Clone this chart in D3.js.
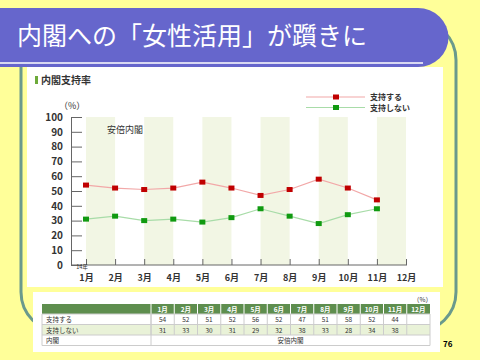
<!DOCTYPE html>
<html><head><meta charset="utf-8">
<script src="https://cdn.jsdelivr.net/npm/d3@7"></script>
<style>body{margin:0;background:#FFFF99;}svg{display:block;}</style>
</head><body>
<script>
const title = "内閣への「女性活用」が躓きに";
const chartTitle = "内閣支持率";
const months = ["1月","2月","3月","4月","5月","6月","7月","8月","9月","10月","11月","12月"];
const support = [54,52,51,52,56,52,47,51,58,52,44];
const nonSupport = [31,33,30,31,29,32,38,33,28,34,38];
const seriesNames = ["支持する","支持しない"];
const yTicks = [0,10,20,30,40,50,60,70,80,90,100];
const cabinet = "安倍内閣";
const yearLabel = "14年";
const pageNo = "76";

const F = "'Noto Sans CJK JP','Noto Sans',sans-serif";
const svg = d3.select("body").append("svg").attr("width",480).attr("height",360);
svg.append("rect").attr("width",480).attr("height",360).attr("fill","#FFFF99");

// frame
svg.append("rect").attr("x",21).attr("y",20).attr("width",435).attr("height",312).attr("rx",40)
  .attr("fill","none").attr("stroke","#6A9A8C").attr("stroke-width",3);

// banner
svg.append("path").attr("d","M0,8 H418 A30,29 0 0 1 418,67 H0 Z").attr("fill","#6666CC");
svg.append("line").attr("x1",0).attr("x2",423).attr("y1",63).attr("y2",63).attr("stroke","#fff").attr("stroke-width",1.5);
svg.append("text").attr("x",17).attr("y",45).attr("fill","#fff").attr("font-family",F)
  .attr("font-size",25).text(title);

// chart panel
svg.append("rect").attr("x",27).attr("y",67).attr("width",416).attr("height",220).attr("fill","#fff");
svg.append("rect").attr("x",35).attr("y",76).attr("width",3).attr("height",8).attr("fill","#6DAA3A");
svg.append("text").attr("x",41).attr("y",84).attr("font-family",F).attr("font-size",10).attr("font-weight","bold")
  .attr("fill","#333").text(chartTitle);

const x = d3.scalePoint().domain(months).range([86,406]);
const y = d3.scaleLinear().domain([0,100]).range([265,117]);
const step = x.step();

// bands
const g = svg.append("g");
g.selectAll("rect.band").data(months.filter((m,i)=>i%2===0)).join("rect")
  .attr("x",d=>x(d)).attr("width",step).attr("y",y(100)).attr("height",y(0)-y(100))
  .attr("fill","#F2F6E4");

svg.append("text").attr("x",107).attr("y",133).attr("font-family",F).attr("font-size",9).attr("fill","#333").text(cabinet);
svg.append("text").attr("x",59).attr("y",109).attr("font-family",F).attr("font-size",9).attr("fill","#333").text("（%）");

// y axis
const ya = svg.append("g").attr("transform","translate(71,0)")
  .call(d3.axisLeft(y).tickValues(yTicks).tickSize(-11).tickSizeOuter(0).tickPadding(8));
ya.selectAll("text").attr("font-family",F).attr("font-size",10).attr("font-weight","bold").attr("fill","#333");
ya.selectAll("line,path").attr("stroke","#666");

// x axis
svg.append("line").attr("x1",71).attr("x2",x("12月")+1).attr("y1",y(0)).attr("y2",y(0)).attr("stroke","#666");
const xa = svg.append("g").attr("transform",`translate(0,${y(0)})`)
  .call(d3.axisBottom(x).tickSize(-6).tickPadding(10));
xa.select(".domain").remove();
xa.selectAll("line").attr("stroke","#666");
xa.selectAll("text").attr("font-family",F).attr("font-size",9).attr("font-weight","bold").attr("fill","#333");
svg.append("text").attr("x",x("1月")-4).attr("y",268.5).attr("text-anchor","middle").attr("font-family",F)
  .attr("font-size",5.5).attr("fill","#333").text(yearLabel);

// series
const series = [
  {name:seriesNames[0], vals:support, line:"#F2A8A8", mark:"#C00000"},
  {name:seriesNames[1], vals:nonSupport, line:"#A8DCA8", mark:"#109A10"}
];
const lineGen = d3.line().x((d,i)=>x(months[i])).y(d=>y(d));
series.forEach((s,k)=>{
  svg.append("path").attr("d",lineGen(s.vals)).attr("fill","none").attr("stroke",s.line).attr("stroke-width",1.2);
  svg.selectAll(null).data(s.vals).join("rect")
    .attr("x",(d,i)=>x(months[i])-3).attr("y",d=>y(d)-2.5).attr("width",6).attr("height",5).attr("fill",s.mark);
  const ly = 97 + k*10.5;
  svg.append("line").attr("x1",306).attr("x2",365).attr("y1",ly).attr("y2",ly).attr("stroke",s.line).attr("stroke-width",1.2);
  svg.append("rect").attr("x",333).attr("y",ly-2.5).attr("width",6).attr("height",5).attr("fill",s.mark);
  svg.append("text").attr("x",370).attr("y",ly+3).attr("font-family",F).attr("font-size",8).attr("font-weight","bold")
    .attr("fill","#333").text(s.name);
});

// table panel
svg.append("rect").attr("x",33).attr("y",292).attr("width",407).attr("height",60).attr("fill","#fff");
const tx0 = 42, tx1 = 151, tx2 = 430;
const cw = (tx2-tx1)/12;
const rowsY = [304,314,324.5,335,345.5];
svg.append("text").attr("x",432).attr("y",302).attr("text-anchor","end").attr("font-family",F).attr("font-size",6.5)
  .attr("fill","#333").text("（%）");
svg.append("rect").attr("x",tx0).attr("y",rowsY[0]).attr("width",tx2-tx0).attr("height",rowsY[1]-rowsY[0]).attr("fill","#5E8E4E");
svg.append("rect").attr("x",tx0).attr("y",rowsY[2]).attr("width",tx2-tx0).attr("height",rowsY[3]-rowsY[2]).attr("fill","#E9F2D8");
months.forEach((m,i)=>{
  const cx = tx1 + cw*i;
  svg.append("line").attr("x1",cx).attr("x2",cx).attr("y1",rowsY[0]).attr("y2",rowsY[1]).attr("stroke","#fff");
  svg.append("line").attr("x1",cx).attr("x2",cx).attr("y1",rowsY[1]).attr("y2",rowsY[3]).attr("stroke","#ccc");
  svg.append("text").attr("x",cx+cw/2).attr("y",rowsY[1]-2.5).attr("text-anchor","middle").attr("font-family",F)
    .attr("font-size",6.5).attr("font-weight","bold").attr("fill","#fff").text(m);
  [support,nonSupport].forEach((arr,r)=>{
    if(arr[i]!==undefined) svg.append("text").attr("x",cx+cw/2).attr("y",rowsY[r+2]-2.5).attr("text-anchor","middle")
      .attr("font-family",F).attr("font-size",6.5).attr("fill","#333").text(arr[i]);
  });
});
rowsY.slice(1).forEach(ry=>svg.append("line").attr("x1",tx0).attr("x2",tx2).attr("y1",ry).attr("y2",ry).attr("stroke","#ccc"));
[tx0,tx1,tx2].forEach(cx=>svg.append("line").attr("x1",cx).attr("x2",cx).attr("y1",rowsY[1]).attr("y2",rowsY[4]).attr("stroke","#ccc"));
const labels = [seriesNames[0],seriesNames[1],"内閣"];
labels.forEach((l,r)=>svg.append("text").attr("x",tx0+4).attr("y",rowsY[r+2]-2.5).attr("font-family",F).attr("font-size",6.5)
  .attr("fill","#333").text(l));
svg.append("text").attr("x",(tx1+tx2)/2).attr("y",rowsY[4]-2.5).attr("text-anchor","middle").attr("font-family",F)
  .attr("font-size",6.5).attr("fill","#333").text(cabinet);

svg.append("text").attr("x",443).attr("y",347).attr("font-family",F).attr("font-size",8).attr("font-weight","bold")
  .attr("fill","#000").text(pageNo);
</script>
</body></html>
